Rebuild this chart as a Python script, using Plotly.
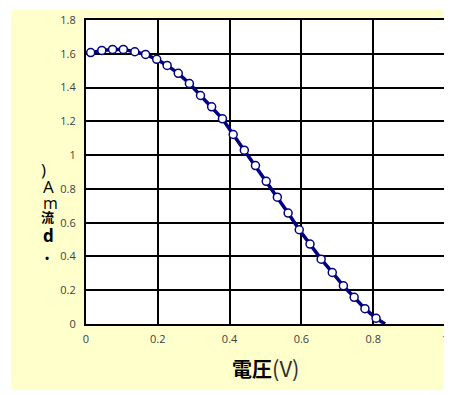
import plotly.graph_objects as go

# Data
voltage = [0.013, 0.044, 0.074, 0.104, 0.136, 0.166, 0.197, 0.226, 0.257, 0.288,
           0.319, 0.350, 0.380, 0.410, 0.441, 0.472, 0.502, 0.533, 0.563, 0.594,
           0.624, 0.655, 0.686, 0.717, 0.747, 0.777, 0.808]
current = [1.607, 1.620, 1.626, 1.626, 1.612, 1.596, 1.567, 1.531, 1.484, 1.424,
           1.353, 1.286, 1.215, 1.122, 1.029, 0.938, 0.845, 0.751, 0.657, 0.558,
           0.473, 0.384, 0.305, 0.226, 0.158, 0.091, 0.034]
# end of the fitted curve where it meets zero
curve_end_x = [0.833]
curve_end_y = [0.0]

x_ticks = [0, 0.2, 0.4, 0.6, 0.8, 1]
x_tick_labels = ["0", "0.2", "0.4", "0.6", "0.8", "1"]
y_ticks = [0, 0.2, 0.4, 0.6, 0.8, 1, 1.2, 1.4, 1.6, 1.8]
y_tick_labels = ["0", "0.2", "0.4", "0.6", "0.8", "1", "1.2", "1.4", "1.6", "1.8"]

# y-axis title glyphs, stacked as they appear in the reference
ylab_chars = [")", "A", "m", "<b>流</b>", "<b>d</b>", "<b>•</b>"]

NAVY = "#000080"

fig = go.Figure()
fig.add_trace(go.Scatter(
    x=voltage + curve_end_x, y=current + curve_end_y,
    mode="lines", line=dict(color=NAVY, width=3.5), hoverinfo="skip",
    showlegend=False, cliponaxis=True))
fig.add_trace(go.Scatter(
    x=voltage, y=current, mode="markers",
    marker=dict(symbol="circle", size=8, color="white",
                line=dict(color=NAVY, width=1.5)),
    showlegend=False, cliponaxis=False))

# page body has an 8px offset; figure coordinates below are window - 8
OFF = 8
W, H = 452, 395
L = 86 - OFF
T = 20 - OFF
R = W - (445 - OFF)
B = H - (324 - OFF)
pw, ph = W - L - R, H - T - B

def px_x(wx):
    return (wx - OFF - L) / pw

def px_y(wy):
    return (H - B - (wy - OFF)) / ph

# yellow chart area and white plot area
fig.add_shape(type="rect", xref="paper", yref="paper",
              x0=px_x(11), x1=px_x(470),
              y0=px_y(390), y1=px_y(10),
              fillcolor="#FFFFCC", line=dict(width=0), layer="below")
fig.add_shape(type="rect", xref="paper", yref="paper",
              x0=0, x1=1, y0=0, y1=1,
              fillcolor="white", line=dict(width=0), layer="below")

tickfont = dict(family="Open Sans, Liberation Sans, sans-serif", size=11, color="#404040")

fig.update_xaxes(range=[0, 1], tickvals=x_ticks, ticktext=x_tick_labels,
                 showgrid=True, gridcolor="black", gridwidth=1.5,
                 showline=True, linecolor="black", linewidth=2, mirror=True,
                 ticks="", zeroline=False, tickfont=tickfont, ticklabelstandoff=4)
fig.update_yaxes(range=[0, 1.8], tickvals=y_ticks, ticktext=y_tick_labels,
                 showgrid=True, gridcolor="black", gridwidth=1.5,
                 showline=True, linecolor="black", linewidth=2, mirror=True,
                 ticks="", zeroline=False, tickfont=tickfont, ticklabelstandoff=6)

# x axis title
fig.add_annotation(xref="paper", yref="paper", x=0.5, y=px_y(367),
                   xanchor="center", yanchor="middle", showarrow=False,
                   text="<b>電圧</b><span style='font-size:22px;color:#303030'>(V)</span>",
                   font=dict(family="Noto Sans CJK JP, sans-serif", size=20, color="black"))

# y axis title glyphs
ylab_pos = [(43, 169), (48, 186), (50, 203), (47, 217), (48, 235), (47, 257)]
ylab_size = [17, 17, 16, 13, 17, 11]
for ch, (wx, wy), sz in zip(ylab_chars, ylab_pos, ylab_size):
    fig.add_annotation(xref="paper", yref="paper", x=px_x(wx), y=px_y(wy),
                       xanchor="center", yanchor="middle", showarrow=False,
                       text=ch,
                       font=dict(family="Open Sans, Noto Sans CJK JP, sans-serif",
                                 size=sz, color="black"))

fig.update_layout(width=W, height=H, margin=dict(l=L, r=R, t=T, b=B, autoexpand=False),
                  paper_bgcolor="white", plot_bgcolor="rgba(0,0,0,0)")

fig.write_html("out.html")
